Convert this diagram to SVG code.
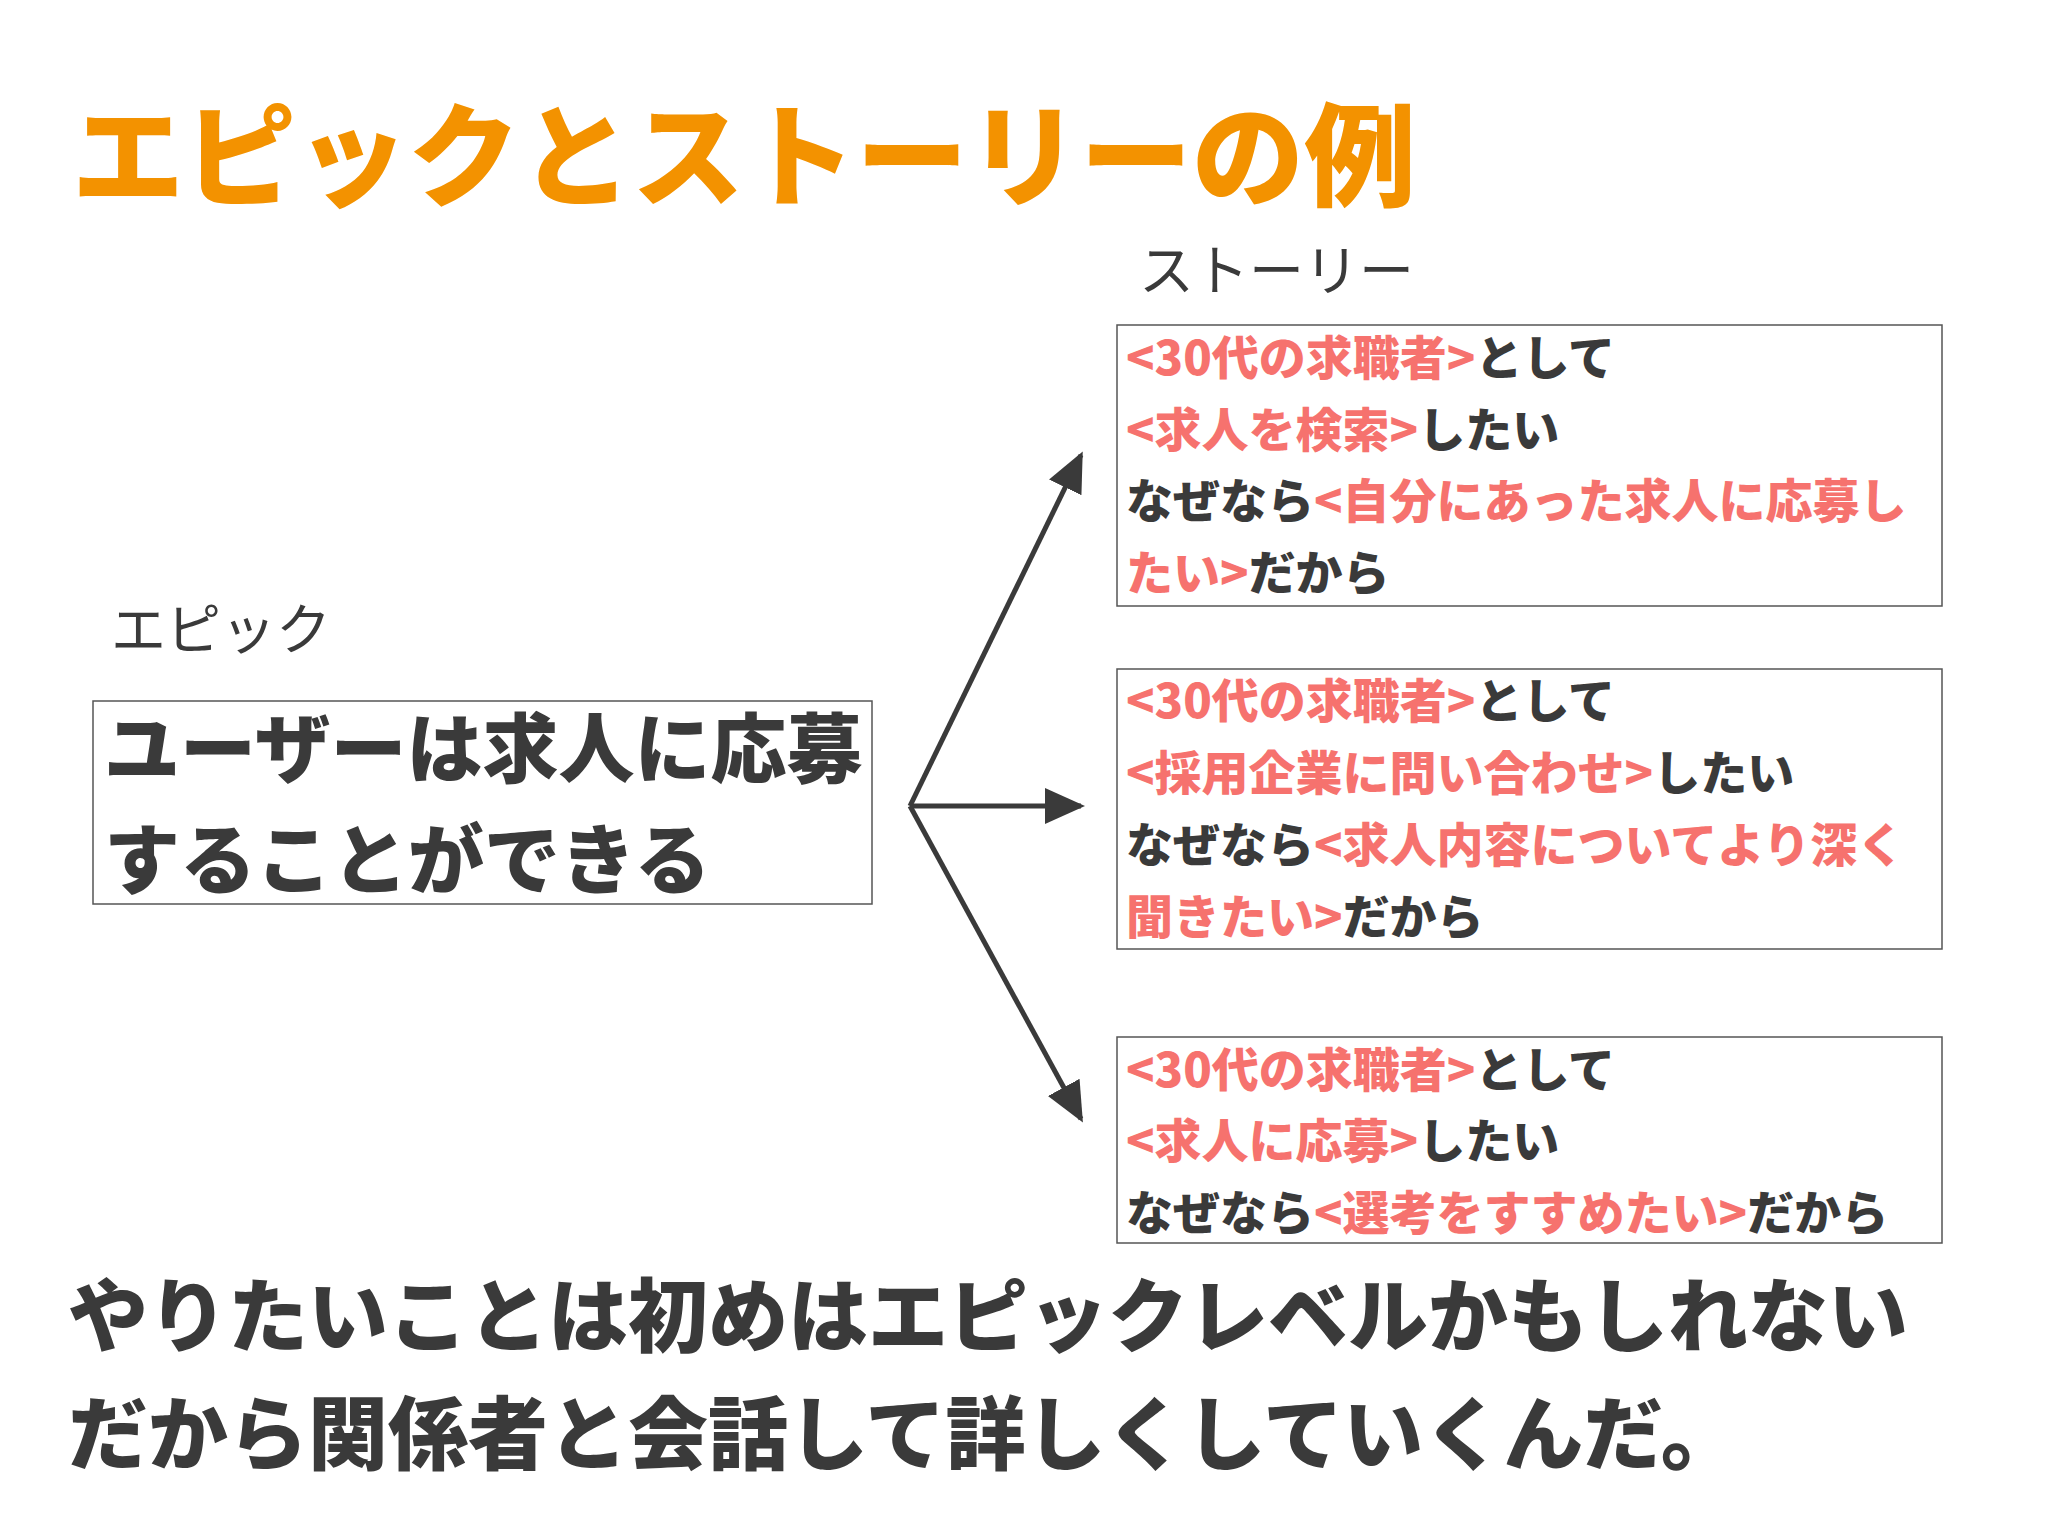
<svg xmlns="http://www.w3.org/2000/svg" width="2048" height="1536" viewBox="0 0 2048 1536">
<style>
text{font-family:"Noto Sans CJK JP","Noto Sans",sans-serif}
.b{font-weight:900;fill:#3a3a3a}
.p{fill:#F6726E}
.box{fill:#fff;stroke:#555;stroke-width:1.5}
.lbl{font-weight:400;fill:#3a3a3a;font-size:55px}
.s{font-size:47px}
.arr{stroke:#3a3a3a;stroke-width:5;fill:none;marker-end:url(#ah)}
</style>
<defs>
<marker id="ah" viewBox="0 0 20 20" refX="18" refY="10" markerWidth="8" markerHeight="8" orient="auto" markerUnits="strokeWidth">
<path d="M0,1 L20,10 L0,19 Z" fill="#3a3a3a"/>
</marker>
</defs>
<rect width="2048" height="1536" fill="#fff"/>
<text x="72" y="198" font-size="112" font-weight="900" fill="#F39200">エピックとストーリーの例</text>
<text class="lbl" x="1139" y="290">ストーリー</text>
<g id="epic">
<text class="lbl" x="111" y="649">エピック</text>
<rect class="box" x="93" y="701" width="779" height="203"/>
<text class="b" x="104" y="777" font-size="76">ユーザーは求人に応募</text>
<text class="b" x="104" y="888" font-size="76">することができる</text>
</g>
<g id="connectors">
<line class="arr" x1="910" y1="806" x2="1081" y2="455"/>
<line class="arr" x1="910" y1="806" x2="1081" y2="806"/>
<line class="arr" x1="910" y1="806" x2="1081" y2="1119"/>
</g>
<g id="story1">
<rect class="box" x="1117" y="325" width="825" height="281"/>
<text class="b s" x="1126" y="375"><tspan class="p">&lt;30代の求職者&gt;</tspan>として</text>
<text class="b s" x="1126" y="447"><tspan class="p">&lt;求人を検索&gt;</tspan>したい</text>
<text class="b s" x="1126" y="518">なぜなら<tspan class="p">&lt;自分にあった求人に応募し</tspan></text>
<text class="b s" x="1126" y="590"><tspan class="p">たい&gt;</tspan>だから</text>
</g>
<g id="story2">
<rect class="box" x="1117" y="669" width="825" height="280"/>
<text class="b s" x="1126" y="718"><tspan class="p">&lt;30代の求職者&gt;</tspan>として</text>
<text class="b s" x="1126" y="790"><tspan class="p">&lt;採用企業に問い合わせ&gt;</tspan>したい</text>
<text class="b s" x="1126" y="862">なぜなら<tspan class="p">&lt;求人内容についてより深く</tspan></text>
<text class="b s" x="1126" y="934"><tspan class="p">聞きたい&gt;</tspan>だから</text>
</g>
<g id="story3">
<rect class="box" x="1117" y="1037" width="825" height="206"/>
<text class="b s" x="1126" y="1087"><tspan class="p">&lt;30代の求職者&gt;</tspan>として</text>
<text class="b s" x="1126" y="1158"><tspan class="p">&lt;求人に応募&gt;</tspan>したい</text>
<text class="b s" x="1126" y="1230">なぜなら<tspan class="p">&lt;選考をすすめたい&gt;</tspan>だから</text>
</g>
<text class="b" x="68" y="1345" font-size="80">やりたいことは初めはエピックレベルかもしれない</text>
<text class="b" x="68" y="1463" font-size="80">だから関係者と会話して詳しくしていくんだ。</text>
</svg>
